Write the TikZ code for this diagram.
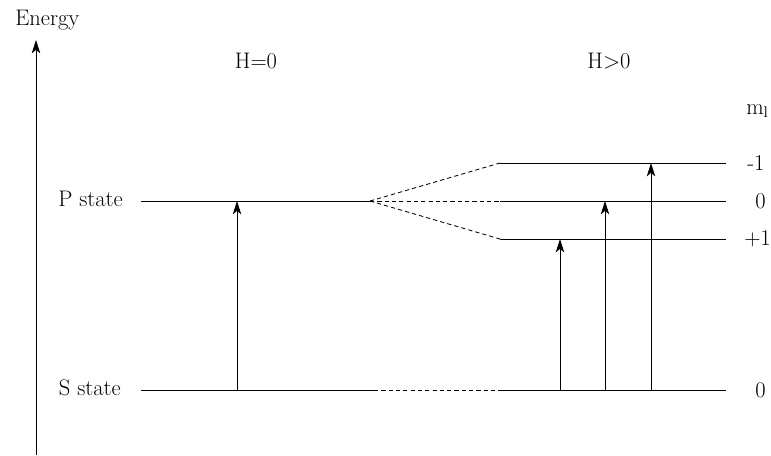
\documentclass[tikz,border=0pt]{standalone}
\usetikzlibrary{arrows.meta}

\tikzset{
  level/.style={line width=0.6pt},
  split/.style={line width=0.6pt, dash pattern=on 3pt off 2.2pt},
  trans/.style={line width=0.6pt, -{Stealth[length=9.5pt,width=6pt,inset=2.5pt]}},
  lbl/.style={font=\fontsize{16}{19}\selectfont, inner sep=0pt}
}

\begin{document}
\begin{tikzpicture}[x=0.025cm, y=-0.025cm, line cap=butt, line join=round]
  \useasboundingbox (0,0) rectangle (771,455);

  % --- Toạ độ ---
  \coordinate (Eb) at (36,455);
  \coordinate (Et) at (36,40);
  % mức P khi H=0
  \coordinate (Pl) at (141,201);
  \coordinate (Pr) at (370,201);
  % ba mức tách khi H>0
  \coordinate (Ml) at (500,163);  \coordinate (Mr) at (726,163);  % m = -1
  \coordinate (Zl) at (500,201);  \coordinate (Zr) at (726,201);  % m = 0
  \coordinate (Ql) at (500,239);  \coordinate (Qr) at (726,239);  % m = +1
  % mức S
  \coordinate (Sl) at (141,390);
  \coordinate (Sr) at (374,390);
  \coordinate (Tl) at (502,390);
  \coordinate (Tr) at (726,390);
  % chân các mũi tên chuyển mức
  \coordinate (A0) at (237,390);
  \coordinate (A1) at (560,390);
  \coordinate (A2) at (605,390);
  \coordinate (A3) at (651,390);

  % --- Trục năng lượng ---
  \draw[trans] (Eb) -- (Et);

  % --- Các mức năng lượng ---
  \draw[level] (Pl) -- (Pr);
  \draw[level] (Ml) -- (Mr);
  \draw[level] (Zl) -- (Zr);
  \draw[level] (Ql) -- (Qr);
  \draw[level] (Sl) -- (Sr);
  \draw[level] (Tl) -- (Tr);

  % --- Đường nét đứt nối ---
  \draw[split] (Pr) -- (Ml);
  \draw[split] (Pr) -- (Zl);
  \draw[split] (Pr) -- (Ql);
  \draw[split] (Sr) -- (Tl);

  % --- Chuyển mức ---
  \draw[trans] (A0) -- (A0 |- Pl);
  \draw[trans] (A1) -- (A1 |- Ql);
  \draw[trans] (A2) -- (A2 |- Zl);
  \draw[trans] (A3) -- (A3 |- Ml);

  % --- Nhãn ---
  \node[lbl, anchor=base west] (energy) at (15,25) {Energy};
  \node[lbl, anchor=base] (h0) at (256,68) {H=0};
  \node[lbl, anchor=base] (h1) at (609,68) {H>0};
  \node[lbl, anchor=base west] (ml) at (746,114) {m$_\mathrm{l}$};
  \node[lbl, anchor=base east] (pst) at (123,206) {P state};
  \node[lbl, anchor=base east] (sst) at (121,395) {S state};
  \node[lbl, anchor=west] (mm) at (747,163) {-1};
  \node[lbl, anchor=west] (mz) at (755,201) {0};
  \node[lbl, anchor=west] (mp) at (744,239) {+1};
  \node[lbl, anchor=west] (sz) at (755,390) {0};
\end{tikzpicture}
\end{document}
